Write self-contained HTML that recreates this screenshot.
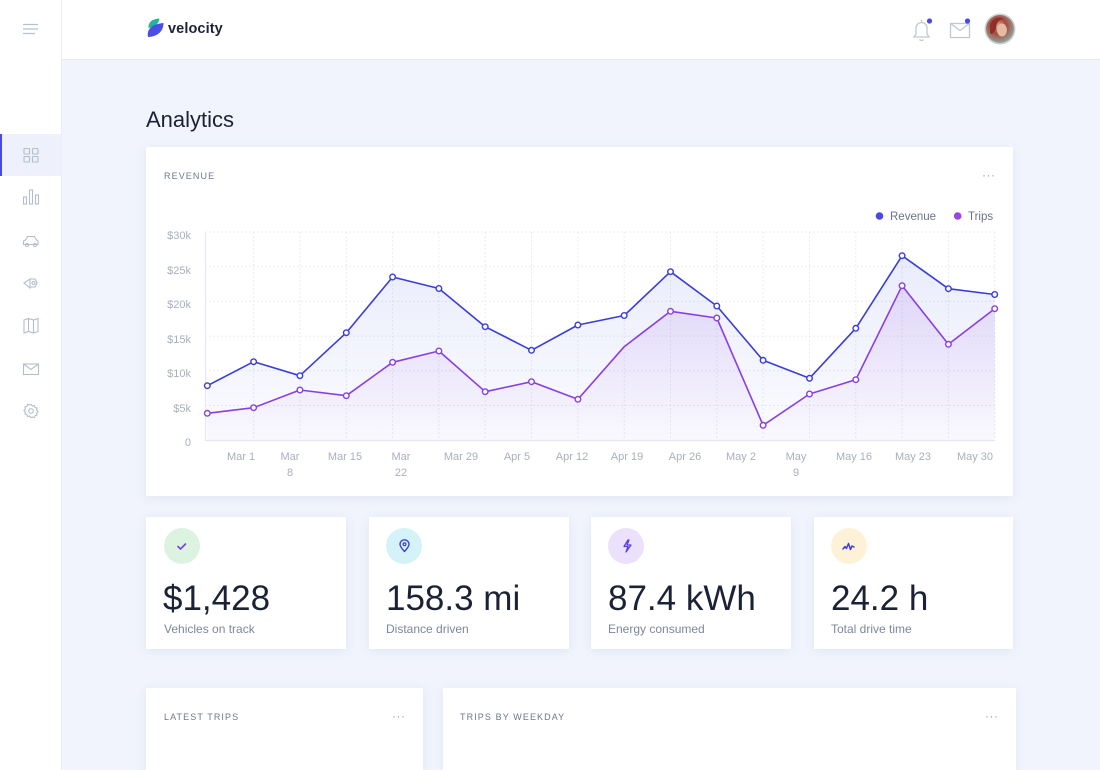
<!DOCTYPE html>
<html>
<head>
<meta charset="utf-8">
<style>
  html,body{margin:0;padding:0;width:1100px;height:770px;overflow:hidden;}
  body{position:relative;background:#f1f4fd;font-family:"Liberation Sans",sans-serif;}
  .abs{position:absolute;}
  .header{left:0;top:0;width:1100px;height:60px;background:#fff;border-bottom:1px solid #e7eaf3;box-sizing:border-box;}
  .sidebar{left:0;top:0;width:62px;height:770px;background:#fff;border-right:1px solid #eceff6;box-sizing:border-box;}
  .card{background:#fff;box-shadow:0 2px 10px rgba(90,105,160,0.10);}
  .ctitle{font-size:9px;letter-spacing:1.1px;color:#6f7787;}
  .dots{font-size:12px;color:#9aa2b1;letter-spacing:0.5px;}
  .num{font-size:35px;color:#1c2235;font-weight:300;line-height:1;}
  .sub{font-size:12px;color:#7d879a;}
  .ic{width:36px;height:36px;border-radius:50%;}
</style>
</head>
<body>
<div class="abs header"></div>
<div class="abs sidebar"></div>

<!-- hamburger -->
<svg class="abs" style="left:22px;top:22px" width="18" height="14" viewBox="0 0 18 14">
  <path d="M1 2.5H16M1 7H16M1 11.5H13" stroke="#b8bfcc" stroke-width="1.3" fill="none"/>
</svg>

<!-- sidebar active -->
<div class="abs" style="left:0;top:134px;width:61px;height:42px;background:#eef1fc;"></div>
<div class="abs" style="left:0;top:134px;width:2px;height:42px;background:#4a4ae0;"></div>

<!-- sidebar icons -->
<svg class="abs" style="left:0;top:130px" width="62" height="300" viewBox="0 130 62 300" fill="none" stroke="#b5bccb" stroke-width="1.1">
  <rect x="24" y="148.5" width="5.5" height="5.5" rx="0.8"/>
  <rect x="32.5" y="148.5" width="5.5" height="5.5" rx="0.8"/>
  <rect x="24" y="156.5" width="5.5" height="5.5" rx="0.8"/>
  <rect x="32.5" y="156.5" width="5.5" height="5.5" rx="0.8"/>
  <rect x="23.5" y="197" width="3" height="7"/>
  <rect x="29.5" y="190" width="3" height="14"/>
  <rect x="35.5" y="195" width="3" height="9"/>
  <path d="M23.5 244.5v-3.5l2-1 2-3.5h7l2 3.5 1.5 1v3.5z"/>
  <circle cx="27" cy="245" r="1.5"/><circle cx="35" cy="245" r="1.5"/>
  <path d="M24 283l6-4v9zM30 279l5 0 2 4-2 4-5 0"/>
  <circle cx="33.5" cy="283" r="1.5"/>
  <path d="M24 320l4.5-1.5 5 1.5 4.5-1.5v13l-4.5 1.5-5-1.5-4.5 1.5z M28.5 318.5v13 M33.5 320v13"/>
  <rect x="23.5" y="364" width="15" height="10.5"/>
  <path d="M23.5 364l7.5 5.5 7.5-5.5"/>
  <circle cx="31" cy="411" r="2.3"/>
  <path d="M31 404.5l1.5 1.5 2-.5.6 2 2 .6-.5 2 1.5 1.4-1.5 1.5.5 2-2 .6-.6 2-2-.5L31 417.5l-1.5-1.5-2 .5-.6-2-2-.6.5-2-1.5-1.4 1.5-1.5-.5-2 2-.6.6-2 2 .5z"/>
</svg>

<!-- logo -->
<svg class="abs" style="left:144px;top:16px" width="22" height="24" viewBox="144 16 22 24">
  <path d="M148.5 28 C148 22 152 19 159.5 18.5 C159 23.5 155 27 148.5 28Z" fill="#22b59a"/>
  <path d="M148 37 C146.5 30 151 24 163.5 23 C163.5 31 158 36.5 148 37Z" fill="#4a4ee6"/>
</svg>
<div class="abs" style="left:168px;top:21px;font-size:14.5px;font-weight:bold;color:#1e2235;letter-spacing:0.1px;">velocity</div>

<!-- top right icons -->
<svg class="abs" style="left:905px;top:14px" width="40" height="32" viewBox="905 14 40 32" fill="none" stroke="#c2c7d2" stroke-width="1.3">
  <path d="M914 37 h15 l-2-3 v-6 a5.5 5.5 0 0 0 -11 0 v6 z"/>
  <path d="M919.5 39.5 a2.5 2.5 0 0 0 4 0"/>
  <path d="M921.5 20v2"/>
  <circle cx="929.5" cy="21" r="2.6" fill="#4a4ae0" stroke="none"/>
</svg>
<svg class="abs" style="left:945px;top:14px" width="30" height="32" viewBox="945 14 30 32" fill="none" stroke="#c2c7d2" stroke-width="1.3">
  <rect x="950.5" y="23.5" width="19" height="14"/>
  <path d="M950.5 23.5l9.5 7 9.5-7"/>
  <circle cx="967.5" cy="21" r="2.6" fill="#4a4ae0" stroke="none"/>
</svg>
<svg class="abs" style="left:984px;top:13px" width="32" height="32" viewBox="0 0 32 32">
  <defs>
    <radialGradient id="av" cx="0.45" cy="0.4" r="0.6">
      <stop offset="0" stop-color="#e0b49a"/>
      <stop offset="0.45" stop-color="#a9473a"/>
      <stop offset="1" stop-color="#8fa6a0"/>
    </radialGradient>
  </defs>
  <circle cx="16" cy="16" r="15.5" fill="#c9d3d0"/>
  <circle cx="16" cy="16" r="14" fill="url(#av)"/>
  <ellipse cx="18" cy="17" rx="5" ry="6.5" fill="#e4bba3"/>
  <path d="M6 12 C8 5 16 3 20 6 C15 6 12 10 12 16 C10 20 8 22 6 20Z" fill="#8e2f2a"/>
</svg>

<!-- Title -->
<div class="abs" style="left:146px;top:107px;font-size:22px;color:#1c2033;">Analytics</div>

<!-- Chart card -->
<div class="abs card" style="left:146px;top:147px;width:867px;height:349px;"></div>
<div class="abs ctitle" style="left:164px;top:171px;">REVENUE</div>
<div class="abs dots" style="left:982px;top:168px;">···</div>

<svg class="abs" style="left:0;top:0" width="1100" height="500" viewBox="0 0 1100 500">
  <defs>
    <linearGradient id="gb" x1="0" y1="250" x2="0" y2="440" gradientUnits="userSpaceOnUse">
      <stop offset="0" stop-color="#5468e0" stop-opacity="0.13"/>
      <stop offset="1" stop-color="#5468e0" stop-opacity="0.02"/>
    </linearGradient>
    <linearGradient id="gp" x1="0" y1="285" x2="0" y2="440" gradientUnits="userSpaceOnUse">
      <stop offset="0" stop-color="#9850e6" stop-opacity="0.15"/>
      <stop offset="1" stop-color="#9850e6" stop-opacity="0.02"/>
    </linearGradient>
  </defs>
  <circle cx="879.5" cy="216" r="3.8" fill="#4a4ae0"/>
  <text x="890" y="220" font-size="11.5" fill="#6b7385" font-family="Liberation Sans, sans-serif">Revenue</text>
  <circle cx="957.7" cy="216" r="3.8" fill="#9a44e8"/>
  <text x="968" y="220" font-size="11.5" fill="#6b7385" font-family="Liberation Sans, sans-serif">Trips</text>

  <g stroke="#e9ecf3" stroke-width="1" stroke-dasharray="2,2" fill="none">
    <path d="M205 232H995M205 266.7H995M205 301.4H995M205 336.1H995M205 370.8H995M205 405.5H995"/>
    <path d="M253.6 232V440M299.9 232V440M346.3 232V440M392.6 232V440M438.9 232V440M485.2 232V440M531.5 232V440M577.9 232V440M624.2 232V440M670.5 232V440M716.8 232V440M763.1 232V440M809.5 232V440M855.8 232V440M902.1 232V440M948.4 232V440M994.7 232V440"/>
  </g>
  <path d="M205.5 232V440.5H995" stroke="#e4e8f1" stroke-width="1.2" fill="none"/>

  <g font-size="11" fill="#a8afbd" font-family="Liberation Sans, sans-serif" text-anchor="end">
    <text x="191" y="239">$30k</text>
    <text x="191" y="274">$25k</text>
    <text x="191" y="308">$20k</text>
    <text x="191" y="343">$15k</text>
    <text x="191" y="377">$10k</text>
    <text x="191" y="412">$5k</text>
    <text x="191" y="446">0</text>
  </g>
  <g font-size="11" fill="#a8afbd" font-family="Liberation Sans, sans-serif" text-anchor="middle">
    <text x="241" y="460">Mar 1</text>
    <text x="290" y="460">Mar</text><text x="290" y="476">8</text>
    <text x="345" y="460">Mar 15</text>
    <text x="401" y="460">Mar</text><text x="401" y="476">22</text>
    <text x="461" y="460">Mar 29</text>
    <text x="517" y="460">Apr 5</text>
    <text x="572" y="460">Apr 12</text>
    <text x="627" y="460">Apr 19</text>
    <text x="685" y="460">Apr 26</text>
    <text x="741" y="460">May 2</text>
    <text x="796" y="460">May</text><text x="796" y="476">9</text>
    <text x="854" y="460">May 16</text>
    <text x="913" y="460">May 23</text>
    <text x="975" y="460">May 30</text>
  </g>

  <polygon fill="url(#gb)" points="207.3,440 207.3,385.7 253.6,361.7 299.9,375.7 346.3,332.7 392.6,277 438.9,288.5 485.2,326.7 531.5,350.3 577.9,325 624.2,315.5 670.5,271.7 716.8,306 763.1,360.3 809.5,378.3 855.8,328.3 902.1,255.7 948.4,288.7 994.7,294.5 994.7,440"/>
  <polygon fill="url(#gp)" points="207.3,440 207.3,413.3 253.6,407.7 299.9,390 346.3,395.7 392.6,362.3 438.9,351 485.2,391.7 531.5,381.7 577.9,399.3 624.2,346.7 670.5,311.3 716.8,318 763.1,425.3 809.5,394 855.8,379.7 902.1,285.7 948.4,344.3 994.7,308.7 994.7,440"/>

  <polyline fill="none" stroke="#3a3ed6" stroke-width="1.6" stroke-linejoin="round" points="207.3,385.7 253.6,361.7 299.9,375.7 346.3,332.7 392.6,277 438.9,288.5 485.2,326.7 531.5,350.3 577.9,325 624.2,315.5 670.5,271.7 716.8,306 763.1,360.3 809.5,378.3 855.8,328.3 902.1,255.7 948.4,288.7 994.7,294.5"/>
  <polyline fill="none" stroke="#8a3fe0" stroke-width="1.6" stroke-linejoin="round" points="207.3,413.3 253.6,407.7 299.9,390 346.3,395.7 392.6,362.3 438.9,351 485.2,391.7 531.5,381.7 577.9,399.3 624.2,346.7 670.5,311.3 716.8,318 763.1,425.3 809.5,394 855.8,379.7 902.1,285.7 948.4,344.3 994.7,308.7"/>

  <g fill="#fff" stroke="#3a3ed6" stroke-width="1.4">
    <circle cx="207.3" cy="385.7" r="2.8"/><circle cx="253.6" cy="361.7" r="2.8"/><circle cx="299.9" cy="375.7" r="2.8"/><circle cx="346.3" cy="332.7" r="2.8"/><circle cx="392.6" cy="277" r="2.8"/><circle cx="438.9" cy="288.5" r="2.8"/><circle cx="485.2" cy="326.7" r="2.8"/><circle cx="531.5" cy="350.3" r="2.8"/><circle cx="577.9" cy="325" r="2.8"/><circle cx="624.2" cy="315.5" r="2.8"/><circle cx="670.5" cy="271.7" r="2.8"/><circle cx="716.8" cy="306" r="2.8"/><circle cx="763.1" cy="360.3" r="2.8"/><circle cx="809.5" cy="378.3" r="2.8"/><circle cx="855.8" cy="328.3" r="2.8"/><circle cx="902.1" cy="255.7" r="2.8"/><circle cx="948.4" cy="288.7" r="2.8"/><circle cx="994.7" cy="294.5" r="2.8"/>
  </g>
  <g fill="#fff" stroke="#8a3fe0" stroke-width="1.4">
    <circle cx="207.3" cy="413.3" r="2.8"/><circle cx="253.6" cy="407.7" r="2.8"/><circle cx="299.9" cy="390" r="2.8"/><circle cx="346.3" cy="395.7" r="2.8"/><circle cx="392.6" cy="362.3" r="2.8"/><circle cx="438.9" cy="351" r="2.8"/><circle cx="485.2" cy="391.7" r="2.8"/><circle cx="531.5" cy="381.7" r="2.8"/><circle cx="577.9" cy="399.3" r="2.8"/><circle cx="670.5" cy="311.3" r="2.8"/><circle cx="716.8" cy="318" r="2.8"/><circle cx="763.1" cy="425.3" r="2.8"/><circle cx="809.5" cy="394" r="2.8"/><circle cx="855.8" cy="379.7" r="2.8"/><circle cx="902.1" cy="285.7" r="2.8"/><circle cx="948.4" cy="344.3" r="2.8"/><circle cx="994.7" cy="308.7" r="2.8"/>
  </g>
</svg>

<!-- Stat cards -->
<div class="abs card" style="left:146px;top:517px;width:200px;height:132px;"></div>
<div class="abs card" style="left:369px;top:517px;width:200px;height:132px;"></div>
<div class="abs card" style="left:591px;top:517px;width:200px;height:132px;"></div>
<div class="abs card" style="left:814px;top:517px;width:199px;height:132px;"></div>

<div class="abs ic" style="left:164px;top:528px;background:#ddf3e1;"></div>
<div class="abs ic" style="left:386px;top:528px;background:#d4f2f8;"></div>
<div class="abs ic" style="left:608px;top:528px;background:#ece1fa;"></div>
<div class="abs ic" style="left:831px;top:528px;background:#fdf2d8;"></div>

<svg class="abs" style="left:0;top:500px" width="1100" height="80" viewBox="0 500 1100 80" fill="none" stroke-linecap="round" stroke-linejoin="round">
  <path d="M178 546.5l2.5 2.5 5-5" stroke="#7b3fe4" stroke-width="1.6"/>
  <path d="M404.5 551.5c-3-3.2-4.5-5.2-4.5-7.2a4.5 4.5 0 0 1 9 0c0 2-1.5 4-4.5 7.2z" stroke="#3b3fd8" stroke-width="1.4"/>
  <circle cx="404.5" cy="544.3" r="1.4" stroke="#3b3fd8" stroke-width="1.2"/>
  <path d="M628 540l-4 6.5h4l-2 5.5 5-7h-4l2-5z" stroke="#5a3fe0" stroke-width="1.3"/>
  <path d="M843 549l2-2.5 1.5 2 2-5 2 6 1.5-3.5 2 1" stroke="#3b3fd8" stroke-width="1.5"/>
</svg>

<div class="abs num" style="left:163px;top:581px;">$1,428</div>
<div class="abs num" style="left:386px;top:581px;">158.3 mi</div>
<div class="abs num" style="left:608px;top:581px;">87.4 kWh</div>
<div class="abs num" style="left:831px;top:581px;">24.2 h</div>

<div class="abs sub" style="left:164px;top:622px;">Vehicles on track</div>
<div class="abs sub" style="left:386px;top:622px;">Distance driven</div>
<div class="abs sub" style="left:608px;top:622px;">Energy consumed</div>
<div class="abs sub" style="left:831px;top:622px;">Total drive time</div>

<!-- Bottom cards -->
<div class="abs card" style="left:146px;top:688px;width:277px;height:82px;"></div>
<div class="abs card" style="left:443px;top:688px;width:573px;height:82px;"></div>
<div class="abs ctitle" style="left:164px;top:712px;">LATEST TRIPS</div>
<div class="abs dots" style="left:392px;top:709px;">···</div>
<div class="abs ctitle" style="left:460px;top:712px;">TRIPS BY WEEKDAY</div>
<div class="abs dots" style="left:985px;top:709px;">···</div>
</body>
</html>
